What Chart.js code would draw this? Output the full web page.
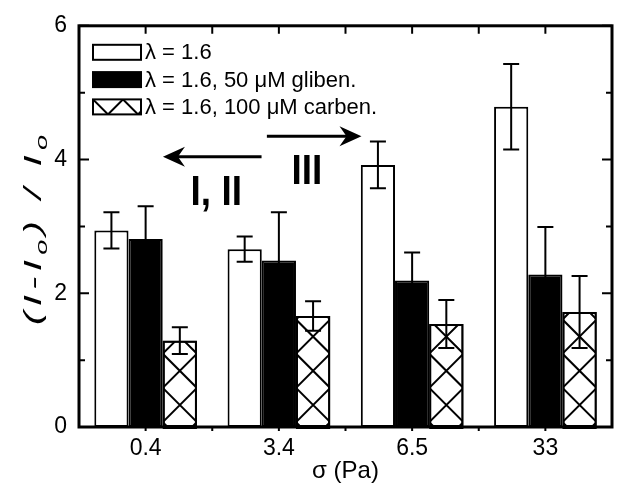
<!DOCTYPE html>
<html>
<head>
<meta charset="utf-8">
<script src="https://cdn.jsdelivr.net/npm/chart.js@4.4.1/dist/chart.umd.min.js"></script>
<style>
  html, body { margin: 0; padding: 0; background: #fff; }
  #chart { display: block; }
</style>
</head>
<body>
<canvas id="chart" width="617" height="491"></canvas>
<script>
// ---- data ----
const categories = ['0.4', '3.4', '6.5', '33'];
const seriesLabels = ['λ = 1.6', 'λ = 1.6, 50 μM gliben.', 'λ = 1.6, 100 μM carben.'];
const plainValues = [2.94, 2.66, 3.92, 4.79];
const plainErrors = [0.27, 0.19, 0.35, 0.64];
const glibenValues = [2.81, 2.49, 2.19, 2.28];
const glibenErrors = [0.49, 0.72, 0.42, 0.71];
const carbenValues = [1.29, 1.66, 1.54, 1.72];
const carbenErrors = [0.20, 0.22, 0.36, 0.54];
const yTicks = [0, 2, 4, 6];

// annotations, in axis units (category index, y value)
const arrowNotes = [
    { from: [0.87, 4.04], to: [0.13, 4.04] },
    { from: [0.91, 4.35], to: [1.62, 4.35] }
];
const textNotes = [
    { text: 'I, II', at: [0.53, 3.32] },
    { text: 'III', at: [1.21, 3.63] }
];

const FONT = "'Liberation Sans', Arial, sans-serif";
const errorSets = [plainErrors, glibenErrors, carbenErrors];

// cross hatch: 45 degree lines through (cx, y0 + k*w)
function drawHatch(ctx, left, top, right, bottom, w, cx, y0) {
    ctx.save();
    ctx.beginPath();
    ctx.rect(left, top, right - left, bottom - top);
    ctx.clip();
    ctx.strokeStyle = '#000';
    ctx.lineWidth = 2;
    ctx.beginPath();
    const span = bottom - top + (right - left);
    for (let k = -Math.ceil(span / w) - 2; k <= Math.ceil(span / w) + 2; k++) {
        const yc = y0 + k * w;
        ctx.moveTo(cx - span, yc - span); ctx.lineTo(cx + span, yc + span);
        ctx.moveTo(cx - span, yc + span); ctx.lineTo(cx + span, yc - span);
    }
    ctx.stroke();
    ctx.restore();
}

/* hatch on the carben. bars */
const hatchPlugin = {
    id: 'hatch',
    afterDatasetDraw(chart, args) {
        if (args.index !== 2) return;
        const ctx = chart.ctx;
        args.meta.data.forEach(bar => {
            const { x, y, base, width } = bar.getProps(['x', 'y', 'base', 'width'], true);
            const l = x - width / 2, r = x + width / 2;
            drawHatch(ctx, l + 1, y + 1, r - 1, base, width, x, base - 22);
            ctx.save();
            ctx.lineWidth = 2;
            ctx.strokeStyle = '#000';
            ctx.strokeRect(l + 1, y + 1, width - 2, base - y);
            ctx.restore();
        });
    }
};

/* error bars */
const errorBarPlugin = {
    id: 'errorBars',
    afterDatasetsDraw(chart) {
        const { ctx } = chart;
        const y = chart.scales.y;
        ctx.save();
        ctx.strokeStyle = '#000';
        ctx.lineWidth = 2;
        chart.data.datasets.forEach((ds, i) => {
            chart.getDatasetMeta(i).data.forEach((bar, j) => {
                const v = ds.data[j], e = errorSets[i][j];
                const top = y.getPixelForValue(v + e), bot = y.getPixelForValue(v - e);
                ctx.beginPath();
                ctx.moveTo(bar.x, top); ctx.lineTo(bar.x, bot);
                ctx.moveTo(bar.x - 8, top); ctx.lineTo(bar.x + 8, top);
                ctx.moveTo(bar.x - 8, bot); ctx.lineTo(bar.x + 8, bot);
                ctx.stroke();
            });
        });
        ctx.restore();
    }
};

/* frame, ticks, legend, y title, notes */
const decorPlugin = {
    id: 'decor',
    afterDraw(chart) {
        const { ctx, chartArea: ca } = chart;
        const xs = chart.scales.x, ys = chart.scales.y;
        ctx.save();
        ctx.strokeStyle = '#000';
        ctx.fillStyle = '#000';

        // frame
        ctx.lineWidth = 3;
        ctx.strokeRect(ca.left, ca.top, ca.right - ca.left, ca.bottom - ca.top);

        // y ticks, inward both sides
        ctx.lineWidth = 2;
        ctx.beginPath();
        for (let v = 0; v <= 6; v++) {
            const py = ys.getPixelForValue(v);
            const len = v % 2 === 0 ? 10 : 6;
            ctx.moveTo(ca.left, py); ctx.lineTo(ca.left + len, py);
            ctx.moveTo(ca.right, py); ctx.lineTo(ca.right - len, py);
        }
        // x ticks: top inward, bottom short outward
        for (let i = 0; i <= categories.length * 2 - 2; i++) {
            const px = xs.getPixelForValue(i / 2);
            ctx.moveTo(px, ca.top); ctx.lineTo(px, ca.top + 8);
            ctx.moveTo(px, ca.bottom); ctx.lineTo(px, ca.bottom + 4);
        }
        ctx.stroke();

        // legend
        const fills = ['#fff', '#000', 'hatch'];
        const bx = ca.left + 14, bw = 48, bh = 15;
        ctx.font = '22px ' + FONT;
        ctx.textBaseline = 'middle';
        ctx.textAlign = 'left';
        seriesLabels.forEach((lab, i) => {
            const by = ca.top + 19 + i * 27.3;
            if (fills[i] === 'hatch') {
                ctx.fillStyle = '#fff';
                ctx.fillRect(bx, by, bw, bh);
                drawHatch(ctx, bx, by, bx + bw, by + bh, 30, bx, by);
            } else {
                ctx.fillStyle = fills[i];
                ctx.fillRect(bx, by, bw, bh);
            }
            ctx.lineWidth = 2;
            ctx.strokeRect(bx, by, bw, bh);
            ctx.fillStyle = '#000';
            ctx.fillText(lab, bx + bw + 4, by + bh / 2 + 1);
        });

        // arrows
        arrowNotes.forEach(a => {
            const x1 = xs.getPixelForValue(a.from[0]), y1 = ys.getPixelForValue(a.from[1]);
            const x2 = xs.getPixelForValue(a.to[0]), y2 = ys.getPixelForValue(a.to[1]);
            const dir = Math.sign(x2 - x1);
            ctx.lineWidth = 3;
            ctx.beginPath();
            ctx.moveTo(x1, y1); ctx.lineTo(x2 - dir * 12, y2);
            ctx.stroke();
            ctx.beginPath();
            ctx.moveTo(x2, y2);
            ctx.lineTo(x2 - dir * 22, y2 - 10);
            ctx.lineTo(x2 - dir * 15, y2);
            ctx.lineTo(x2 - dir * 22, y2 + 10);
            ctx.closePath();
            ctx.fill();
        });

        // bold labels
        ctx.font = 'bold 42px ' + FONT;
        ctx.textAlign = 'center';
        ctx.textBaseline = 'alphabetic';
        textNotes.forEach(t => {
            const px = xs.getPixelForValue(t.at[0]), py = ys.getPixelForValue(t.at[1]);
            ctx.save();
            ctx.translate(px, py);
            ctx.scale(0.88, 1);
            ctx.fillText(t.text, 0, 0);
            ctx.restore();
        });

        // y title (I-Io) / Io, stretched along its length like the source
        const parts = [['(', 0], ['I', 0], ['-', 0], ['I', 0], ['o', 1], [')', 0], [' ', 0], ['/', 0], [' ', 0], ['I', 0], ['o', 1]];
        const mainFont = 'italic 40px ' + FONT, subFont = 'italic 27px ' + FONT;
        let natural = 0;
        const widths = parts.map(([c, sub]) => {
            ctx.font = sub ? subFont : mainFont;
            const w = ctx.measureText(c).width;
            natural += w;
            return w;
        });
        const target = 190;
        const gap = (target - natural) / (parts.length - 1);
        ctx.translate(41, 230);
        ctx.rotate(-Math.PI / 2);
        ctx.scale(1, 0.62);
        ctx.textAlign = 'left';
        let cx = -target / 2;
        parts.forEach(([c, sub], i) => {
            ctx.font = sub ? subFont : mainFont;
            ctx.fillText(c, cx, sub ? 9 : 0);
            cx += widths[i] + gap;
        });
        ctx.restore();
    }
};

new Chart(document.getElementById('chart'), {
    type: 'bar',
    data: {
        labels: categories,
        datasets: [
            { label: seriesLabels[0], data: plainValues, backgroundColor: '#fff' },
            { label: seriesLabels[1], data: glibenValues, backgroundColor: '#000' },
            { label: seriesLabels[2], data: carbenValues, backgroundColor: '#fff' }
        ]
    },
    options: {
        responsive: false,
        animation: false,
        devicePixelRatio: 1,
        layout: { padding: { top: 20, right: 5, left: 0, bottom: 0 } },
        datasets: {
            bar: {
                borderColor: '#000',
                borderWidth: 2,
                borderSkipped: false,
                categoryPercentage: 0.77,
                barPercentage: 1.0
            }
        },
        plugins: { legend: { display: false }, tooltip: { enabled: false } },
        scales: {
            x: {
                grid: { display: false, drawTicks: false },
                border: { display: false },
                ticks: { color: '#000', font: { family: FONT, size: 23 }, padding: 8 },
                title: {
                    display: true,
                    text: 'σ (Pa)',
                    color: '#000',
                    font: { family: FONT, size: 24 },
                    padding: { top: 0, bottom: 5 }
                },
                afterFit: s => { s.height = 64; }
            },
            y: {
                min: 0,
                max: 6,
                grid: { display: false, drawTicks: false },
                border: { display: false },
                ticks: { color: '#000', font: { family: FONT, size: 23 }, padding: 12 },
                afterBuildTicks: s => { s.ticks = yTicks.map(v => ({ value: v })); },
                afterFit: s => { s.width = 79; }
            }
        }
    },
    plugins: [hatchPlugin, errorBarPlugin, decorPlugin]
});
</script>
</body>
</html>
